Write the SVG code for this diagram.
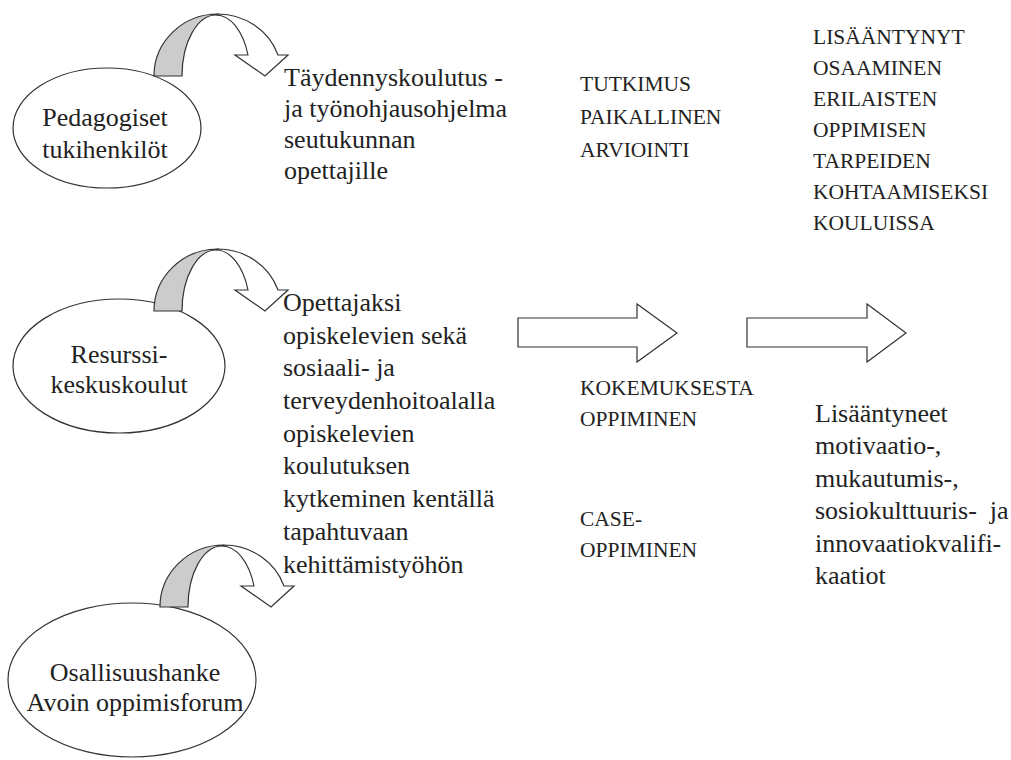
<svg xmlns="http://www.w3.org/2000/svg" width="1011" height="760" viewBox="0 0 1011 760">
  <defs>
    <style>
      .oval { fill: #ffffff; stroke: #333333; stroke-width: 1.2; }
      .band { fill: #cccccc; stroke: #333333; stroke-width: 1.2; stroke-linejoin: miter; }
      .curl { fill: #ffffff; stroke: #333333; stroke-width: 1.2; stroke-linejoin: miter; }
      .block { fill: #ffffff; stroke: #333333; stroke-width: 1.2; }
      .t { font-family: "Liberation Serif", "Times New Roman", serif; font-size: 26px; fill: #222222; }
      .c { text-anchor: middle; }
      .caps { font-family: "Liberation Serif", "Times New Roman", serif; font-size: 21.5px; fill: #222222; }
    </style>
    <!-- curved down arrow, base line at y=0: shaded back band + front band with head -->
    <g id="curl">
      <path class="band" d="M 154,0 A 64 62 0 0 1 218,-62 L 216,-61 A 34 61 0 0 0 182,0 Z"/>
      <path class="curl" d="M 218,-62 A 64 62 0 0 1 278,-21 L 288,-21 L 265,0 L 235,-21 L 248,-21 A 34 61 0 0 0 216,-61 Z"/>
    </g>
  </defs>

  <g id="node-pedagogiset">
    <ellipse class="oval" cx="107" cy="128" rx="94" ry="60"/>
    <use href="#curl" transform="translate(0,76)"/>
    <text class="t c" x="105" y="126">Pedagogiset</text>
    <text class="t c" x="105" y="158">tukihenkilöt</text>
  </g>

  <g id="node-resurssi">
    <ellipse class="oval" cx="119" cy="366" rx="106" ry="67"/>
    <use href="#curl" transform="translate(0,311)"/>
    <text class="t c" x="119" y="363">Resurssi-</text>
    <text class="t c" x="119" y="393">keskuskoulut</text>
  </g>

  <g id="node-osallisuus">
    <ellipse class="oval" cx="132" cy="680" rx="124" ry="77"/>
    <use href="#curl" transform="translate(6,607)"/>
    <text class="t c" x="135" y="681">Osallisuushanke</text>
    <text class="t c" x="135" y="711">Avoin oppimisforum</text>
  </g>

  <g id="node-taydennys">
    <text class="t" x="284" y="86">Täydennyskoulutus -</text>
    <text class="t" x="284" y="117">ja työnohjausohjelma</text>
    <text class="t" x="284" y="148">seutukunnan</text>
    <text class="t" x="284" y="179">opettajille</text>
  </g>

  <g id="node-opettajaksi">
    <text class="t" x="283" y="311">Opettajaksi</text>
    <text class="t" x="283" y="344">opiskelevien sekä</text>
    <text class="t" x="283" y="376">sosiaali- ja</text>
    <text class="t" x="283" y="409">terveydenhoitoalalla</text>
    <text class="t" x="283" y="442">opiskelevien</text>
    <text class="t" x="283" y="474">koulutuksen</text>
    <text class="t" x="283" y="507">kytkeminen kentällä</text>
    <text class="t" x="283" y="540">tapahtuvaan</text>
    <text class="t" x="283" y="573">kehittämistyöhön</text>
  </g>

  <g id="node-tutkimus">
    <text class="caps" x="580" y="91">TUTKIMUS</text>
    <text class="caps" x="580" y="124">PAIKALLINEN</text>
    <text class="caps" x="580" y="157">ARVIOINTI</text>
  </g>

  <g id="node-kokemus">
    <text class="caps" x="580" y="395">KOKEMUKSESTA</text>
    <text class="caps" x="580" y="426">OPPIMINEN</text>
  </g>

  <g id="node-case">
    <text class="caps" x="580" y="526">CASE-</text>
    <text class="caps" x="580" y="557">OPPIMINEN</text>
  </g>

  <g id="node-osaaminen">
    <text class="caps" x="813" y="44">LISÄÄNTYNYT</text>
    <text class="caps" x="813" y="75">OSAAMINEN</text>
    <text class="caps" x="813" y="106">ERILAISTEN</text>
    <text class="caps" x="813" y="137">OPPIMISEN</text>
    <text class="caps" x="813" y="168">TARPEIDEN</text>
    <text class="caps" x="813" y="199">KOHTAAMISEKSI</text>
    <text class="caps" x="813" y="230">KOULUISSA</text>
  </g>

  <g id="node-kvalifikaatiot">
    <text class="t" x="815" y="422">Lisääntyneet</text>
    <text class="t" x="815" y="454">motivaatio-,</text>
    <text class="t" x="815" y="487">mukautumis-,</text>
    <text class="t" x="815" y="519" xml:space="preserve">sosiokulttuuris-  ja</text>
    <text class="t" x="815" y="552">innovaatiokvalifi-</text>
    <text class="t" x="815" y="584">kaatiot</text>
  </g>

  <g id="connectors">
    <path class="block" d="M 518,318 L 637,318 L 637,304 L 677,333 L 637,362 L 637,347 L 518,347 Z"/>
    <path class="block" d="M 747,318 L 867,318 L 867,304 L 906,333 L 867,362 L 867,347 L 747,347 Z"/>
  </g>
</svg>
